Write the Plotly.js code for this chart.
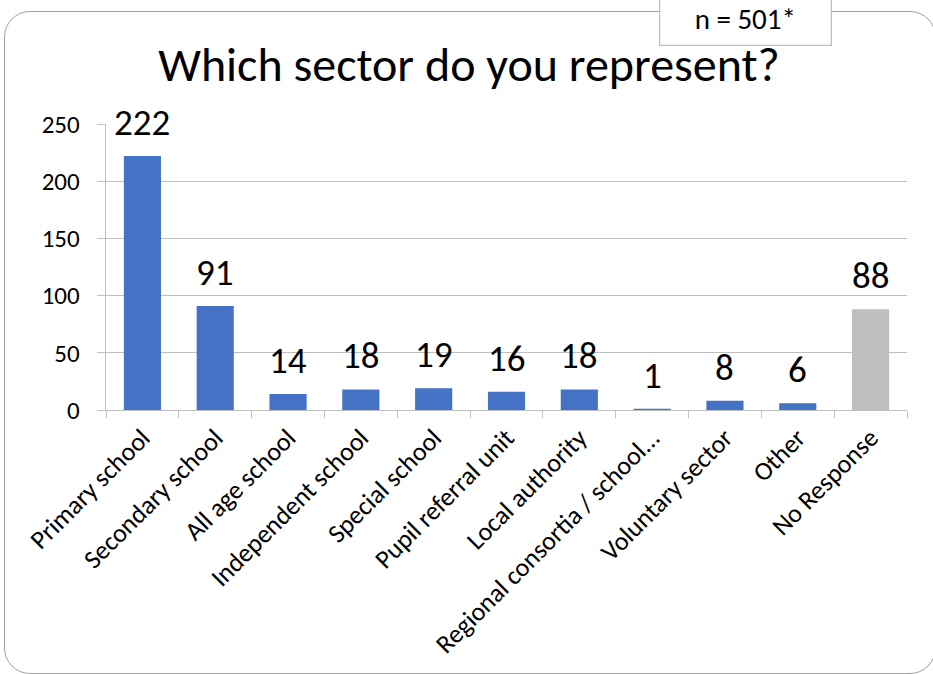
<!DOCTYPE html>
<html><head><meta charset="utf-8">
<script src="https://cdn.plot.ly/plotly-3.0.1.min.js"></script>
<style>
body{margin:0;background:#fff;overflow:hidden;}
#frame{position:absolute;left:4px;top:11px;width:932px;height:663px;border:1.4px solid #a0a0a0;border-radius:26px;box-sizing:border-box;}
#chart{position:absolute;left:0;top:0;width:933px;height:674px;}
</style></head>
<body>
<div id="frame"></div>
<div id="chart"></div>
<script>
const categories = ["Primary school","Secondary school","All age school","Independent school","Special school","Pupil referral unit","Local authority","Regional consortia / school...","Voluntary sector","Other","No Response"];
const values = [222,91,14,18,19,16,18,1,8,6,88];
const barColors = ["#4472C4","#4472C4","#4472C4","#4472C4","#4472C4","#4472C4","#4472C4","#4472C4","#4472C4","#4472C4","#BFBFBF"];
const yTicks = [0,50,100,150,200,250];
const titleText = "Which sector do you represent?";
const noteText = "n = 501*";

const font = "Carlito, Lato, sans-serif";
const labelAnns = categories.map((c,i)=>({
  x:c, y:values[i], xref:'x', yref:'y', text:String(values[i]), showarrow:false,
  yanchor:'bottom', yshift:9, font:{family:font,size:37,color:'#000'}
}));
Plotly.newPlot('chart', [{
  type:'bar', x:categories, y:values,
  marker:{color:barColors}, hoverinfo:'none'
}], {
  width:933, height:674,
  paper_bgcolor:'rgba(0,0,0,0)', plot_bgcolor:'rgba(0,0,0,0)',
  margin:{l:106,r:26,t:124,b:264},
  bargap:0.49,
  font:{family:font,color:'#000'},
  title:{text:titleText, font:{family:font,size:48,color:'#000'}, x:469/933, xref:'container', xanchor:'center', y:0.905, yref:'container', yanchor:'middle'},
  xaxis:{type:'category', tickangle:-45, tickson:'boundaries', ticks:'outside', ticklen:7, tickcolor:'#bfbfbf',
    showline:true, linecolor:'#bfbfbf', linewidth:1.3, showgrid:false, tickfont:{family:font,size:26,color:'#000'}, ticklabelstandoff:1},
  yaxis:{range:[0,250], tickvals:yTicks, ticks:'outside', ticklen:8, tickcolor:'#bfbfbf', showline:true, linecolor:'#bfbfbf', linewidth:1.3,
    gridcolor:'#bfbfbf', gridwidth:1.3, zeroline:false, tickfont:{family:font,size:25,color:'#000'}, ticklabelstandoff:12},
  annotations:labelAnns.concat([{text:noteText, xref:'paper', yref:'paper', x:(745-106)/801, y:(410-19)/286, xanchor:'center', yanchor:'middle',
    showarrow:false, font:{family:font,size:29,color:'#000'}, bgcolor:'#fff', bordercolor:'#bfbfbf', borderwidth:1.3, width:168, height:48, align:'center'}]),
  showlegend:false
}, {staticPlot:true});
</script>
</body></html>
